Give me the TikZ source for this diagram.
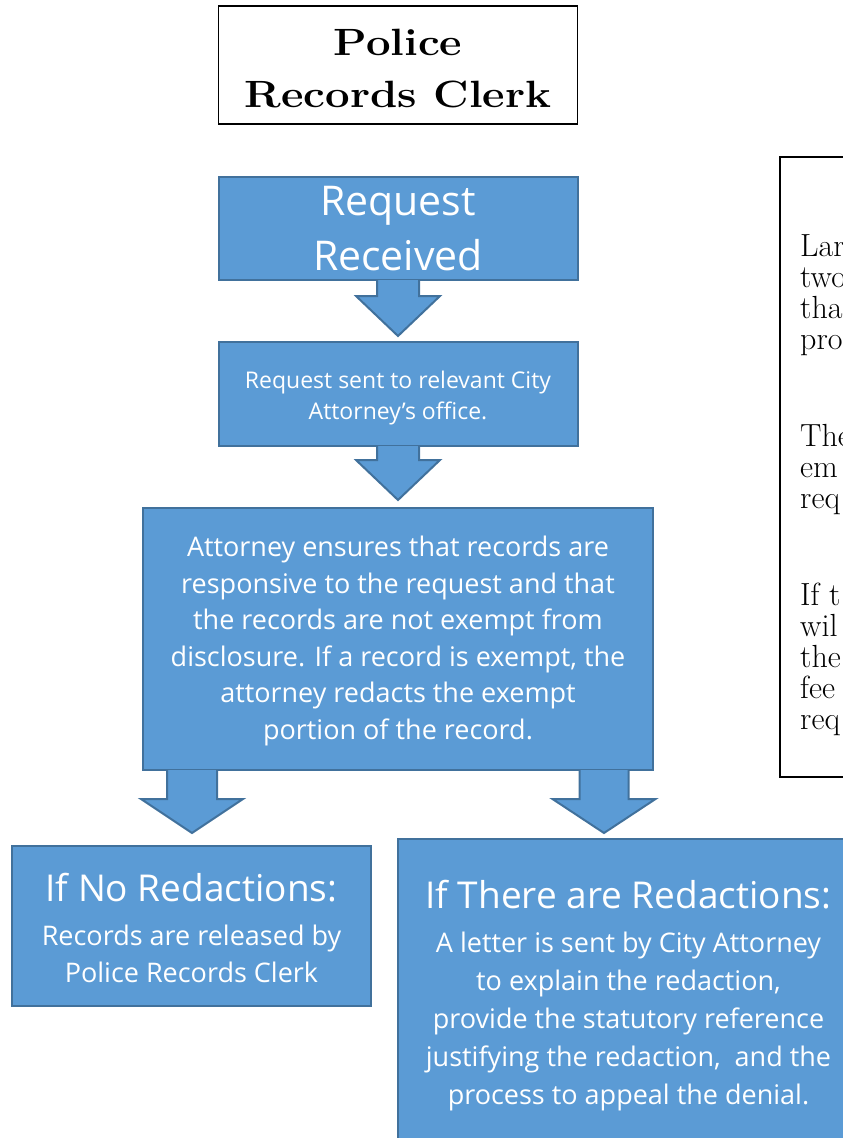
\documentclass[tikz,border=0pt]{standalone}
\usepackage{fontspec}
\newfontfamily\osans{Open Sans}
\newfontfamily\titlefont[FakeStretch=1.15]{Latin Modern Roman}
\usetikzlibrary{calc}
\definecolor{boxfill}{HTML}{5B9BD5}
\definecolor{boxline}{HTML}{41719C}
\newcommand\blockarrow[5]{%
  \draw[barrow] ($#1+(-#2,0)$) -- ++(0,#3) -- ++({-(#4-#2)},0) -- ($#1+(0,#5)$)
    -- ($#1+(#4,#3)$) -- ++({-(#4-#2)},0) -- ($#1+(#2,0)$);}
\tikzset{
  bluebox/.style={draw=boxline, fill=boxfill, line width=2pt, text=white,
    align=center, inner sep=0pt, outer sep=0pt, font=\osans},
  boxtext/.style={inner sep=0pt, text=white, align=center, anchor=north},
  barrow/.style={draw=boxline, fill=boxfill, line width=2pt, line join=miter},
  blackbox/.style={draw=black, line width=1.5pt, inner sep=0pt, outer sep=0pt},
  notetext/.style={inner sep=0pt, align=left, anchor=north west,
    font=\fontsize{32}{31}\selectfont}
}
\begin{document}
\begin{tikzpicture}[x=1pt,y=-1pt]
\useasboundingbox (0,0) rectangle (843,1138);
\clip (0,0) rectangle (843,1138);
% title
\node[blackbox, minimum width=359pt, minimum height=118pt] (title) at (398,65) {};
\node[inner sep=0pt, align=center, anchor=north,
  font=\titlefont\bfseries\fontsize{38}{52}\selectfont] (titletxt) at (398,29)
  {Police\\Records Clerk};
% side note
\node[blackbox, minimum width=140pt, minimum height=620pt] (note) at (850,467) {};
\node[notetext] (notetxt) at (800,234)
  {Lar\\two\\tha\\pro\\[66pt]The\\em\\req\\[66pt]If t\\wil\\the\\fee\\req};
% flow boxes
\node[bluebox, minimum width=359pt, minimum height=103pt,
  font=\osans\fontsize{41}{55}\selectfont] (b1) at (398,228.5) {Request\\Received};
\node[bluebox, minimum width=359pt, minimum height=104pt] (b2) at (398,394) {};
\node[boxtext, font=\osans\fontsize{23}{31}\selectfont] (b2txt) at (398,371)
  {Request sent to relevant City\\Attorney’s office.};
\node[bluebox, minimum width=510pt, minimum height=262pt] (b3) at (398,639) {};
\node[boxtext, font=\osans\fontsize{27}{36.5}\selectfont] (b3txt) at (398,536)
  {Attorney ensures that records are\\responsive to the request and that\\the records are not exempt from\\disclosure. If a record is exempt, the\\attorney redacts the exempt\\portion of the record.};
\node[bluebox, minimum width=359pt, minimum height=160pt] (b4) at (191.5,926) {};
\node[boxtext, font=\osans\fontsize{27}{37}\selectfont] (b4txt) at (191.5,873)
  {{\fontsize{37}{47}\selectfont If No Redactions:}\\[7pt]Records are released by\\Police Records Clerk};
\node[bluebox, minimum width=461pt, minimum height=321pt, anchor=north west] (b5) at (398,839) {};
\node[boxtext, font=\osans\fontsize{27}{38}\selectfont] (b5txt) at (628.5,880)
  {{\fontsize{37}{47}\selectfont If There are Redactions:}\\[6pt]A letter is sent by City Attorney\\to explain the redaction,\\provide the statutory reference\\justifying the redaction,\ \ and the\\process to appeal the denial.};
% arrows
\coordinate (a3) at ($(b3.south west)+(49,0)$);
\coordinate (a4) at ($(b3.south west)+(461,0)$);
\blockarrow{(b1.south)}{21}{16}{42}{56}
\blockarrow{(b2.south)}{21}{14}{42}{54}
\blockarrow{(a3)}{25}{29}{51}{63}
\blockarrow{(a4)}{24.5}{29}{51.5}{63}
\end{tikzpicture}
\end{document}
